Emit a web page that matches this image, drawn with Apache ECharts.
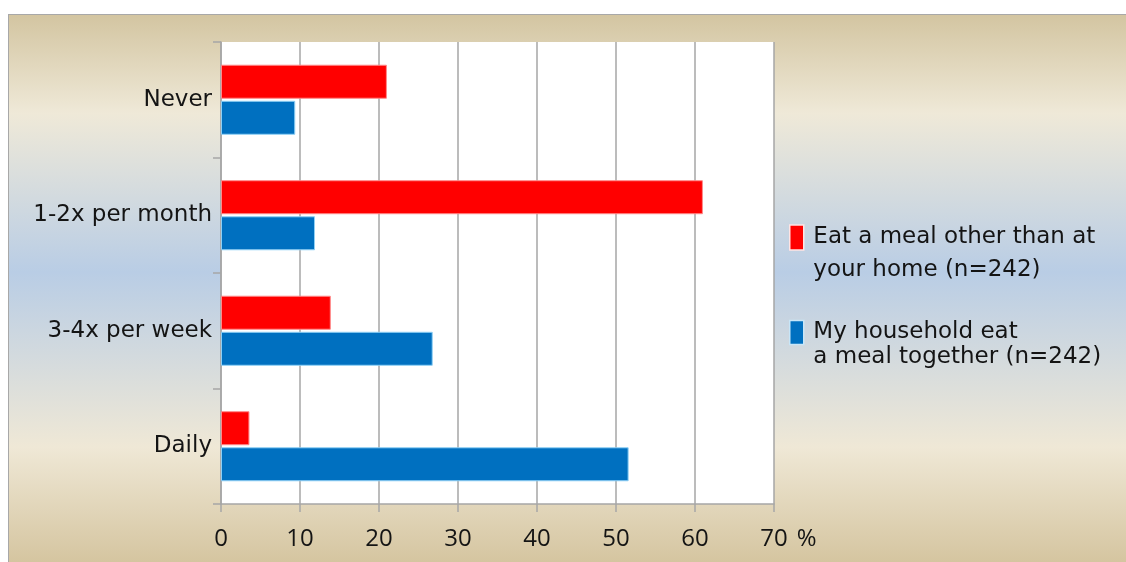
<!DOCTYPE html>
<html>
<head>
<meta charset="utf-8">
<script src="https://cdn.jsdelivr.net/npm/echarts@6/dist/echarts.min.js"></script>
<style>
  html, body { margin: 0; padding: 0; background: #ffffff; }
  #frame {
    position: absolute; left: 8px; top: 14px; width: 1118px; height: 548px;
    border-top: 1px solid #a8a8a8; border-left: 1px solid #a8a8a8; box-sizing: border-box;
    background: linear-gradient(to bottom, #d3c5a1 0%, #efe9d8 18%, #b9cde5 47%, #efe8d6 79%, #d5c5a0 100%);
  }
  #chart { position: absolute; left: 0; top: 0; width: 1126px; height: 562px; }
</style>
</head>
<body>
<div id="frame"></div>
<div id="chart"></div>
<script>
// Meal frequency categories (top to bottom)
const categories = ['Never', '1-2x per month', '3-4x per week', 'Daily'];

// Percent of respondents
const eatOutside = [21.0, 61.0, 13.9, 3.6];
const eatTogether = [9.4, 11.9, 26.8, 51.6];

const nameOutside = 'Eat a meal other than at\nyour home (n=242)';
const nameTogether = 'My household eat\na meal together (n=242)';

const xTicks = [0, 10, 20, 30, 40, 50, 60, 70];
const unitLabel = '%';

const TEXT_FONT = '"DejaVu Sans", sans-serif';
const NUM_FONT = '"Open Sans", "Noto Sans", sans-serif';
const INK = '#141414';
const chart = echarts.init(document.getElementById('chart'), null, { renderer: 'canvas' });

// Legend text: a leading blank line keeps the first text line level with the swatch,
// and a thin space on each line opens a little room after the swatch
const legendFormatter = name => '\n' + name.split('\n').map(l => '\u2009' + l).join('\n');

chart.setOption({
  backgroundColor: 'transparent',
  animation: false,
  grid: { left: 221, right: 352, top: 42, bottom: 58, show: true, backgroundColor: '#ffffff', borderWidth: 0 },
  legend: [
    {
      data: [nameOutside], left: 789, top: 188, padding: 0, orient: 'vertical',
      itemWidth: 14, itemHeight: 25, icon: 'rect', formatter: legendFormatter,
      itemStyle: { borderColor: '#ffe4e4', borderWidth: 1.5 },
      textStyle: { fontFamily: TEXT_FONT, fontSize: 23, color: INK, lineHeight: 33 }
    },
    {
      data: [nameTogether], left: 789, top: 295, padding: 0, orient: 'vertical',
      itemWidth: 14, itemHeight: 24, icon: 'rect', formatter: legendFormatter,
      itemStyle: { borderColor: '#c8e6f8', borderWidth: 1.5 },
      textStyle: { fontFamily: TEXT_FONT, fontSize: 23, color: INK, lineHeight: 25 }
    }
  ],
  xAxis: {
    type: 'value', min: xTicks[0], max: xTicks[xTicks.length - 1], interval: 10,
    axisLine: { show: true, lineStyle: { color: '#a6a6a6', width: 1.5 } },
    axisTick: { show: true, length: 8, lineStyle: { color: '#a6a6a6', width: 1.5 } },
    axisLabel: {
      fontFamily: NUM_FONT, fontSize: 24, color: INK, margin: 23, lineHeight: 24,
      // last tick carries the unit; a blank spacer on the left keeps the number centred on its tick
      formatter: v => v === xTicks[xTicks.length - 1] ? '{pad|}{n|' + v + '}{u|' + unitLabel + '}' : String(v),
      rich: {
        pad: { width: 29 },
        n: { fontFamily: NUM_FONT, fontSize: 24, color: INK, lineHeight: 24 },
        u: { fontFamily: NUM_FONT, fontSize: 24, color: INK, lineHeight: 24, padding: [0, 0, 0, 9] }
      }
    },
    splitLine: { show: true, lineStyle: { color: '#a6a6a6', width: 1.5 } }
  },
  yAxis: {
    type: 'category', data: categories, inverse: true,
    axisLine: { show: true, lineStyle: { color: '#a6a6a6', width: 1.5 } },
    axisTick: { show: true, length: 8, lineStyle: { color: '#a6a6a6', width: 1.5 } },
    axisLabel: { fontFamily: TEXT_FONT, fontSize: 23, color: INK, margin: 9 },
    splitLine: { show: false }
  },
  series: [
    {
      name: nameOutside, type: 'bar', data: eatOutside, barWidth: 34, barGap: '6%',
      itemStyle: { color: '#ff0000', borderColor: '#ff8a8a', borderWidth: 1 }
    },
    {
      name: nameTogether, type: 'bar', data: eatTogether, barWidth: 34, barGap: '6%',
      itemStyle: { color: '#0070c0', borderColor: '#8fd0f5', borderWidth: 1 }
    }
  ]
});
</script>
</body>
</html>
